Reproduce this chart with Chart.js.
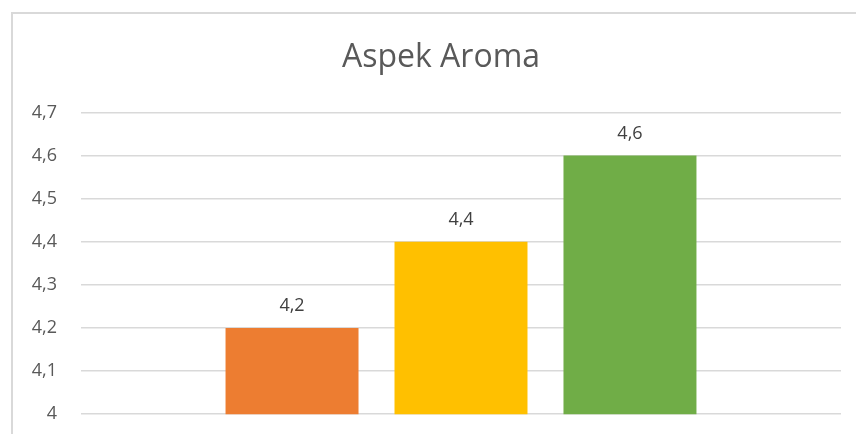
<!DOCTYPE html>
<html>
<head>
<meta charset="utf-8">
<script src="https://cdn.jsdelivr.net/npm/chart.js@4"></script>
<style>
  html, body { margin: 0; padding: 0; background: #fff; overflow: hidden; }
  body { width: 856px; height: 434px; position: relative; }
  #frame { position: absolute; left: 11px; top: 12px; width: 900px; height: 500px;
           border: 2px solid #d9d9d9; box-sizing: border-box; }
  #myChart { position: absolute; left: 13px; top: 14px; }
</style>
</head>
<body>
<div id="frame"></div>
<canvas id="myChart" width="856" height="435"></canvas>
<script>
// DATA
const categories = [""];
const seriesNames = ["Seri 1", "Seri 2", "Seri 3"];
const seriesValues = [[4.2], [4.4], [4.6]];
const seriesColors = ["#ED7D31", "#FFC000", "#70AD47"];
const yTicks = [4, 4.1, 4.2, 4.3, 4.4, 4.5, 4.6, 4.7];

const fmt = (v) => String(Math.round(v * 10) / 10).replace(".", ",");

// labels above the bars
const valueLabels = {
  id: "valueLabels",
  afterDatasetsDraw(chart) {
    const ctx = chart.ctx;
    ctx.save();
    ctx.font = "18px 'Open Sans'";
    ctx.fillStyle = "#404040";
    ctx.textAlign = "center";
    ctx.textBaseline = "middle";
    chart.data.datasets.forEach((ds, i) => {
      chart.getDatasetMeta(i).data.forEach((bar, j) => {
        ctx.fillText(fmt(ds.data[j]), bar.x, bar.y - 22);
      });
    });
    ctx.restore();
  },
};

const ctx = document.getElementById("myChart");

new Chart(ctx, {
  type: "bar",
  data: {
    labels: categories,
    datasets: seriesNames.map((name, i) => ({
      label: name,
      data: seriesValues[i],
      backgroundColor: seriesColors[i],
      categoryPercentage: 0.667,
      barPercentage: 0.787,
    })),
  },
  options: {
    responsive: false,
    animation: false,
    layout: { padding: { left: 0, right: 0, top: 0, bottom: 26 } },
    plugins: {
      legend: { display: false },
      tooltip: { enabled: false },
      title: {
        display: true,
        text: "Aspek Aroma",
        color: "#595959",
        font: { family: "Open Sans", size: 32, weight: "normal", lineHeight: 1.2 },
        padding: { top: 25, bottom: 35 },
      },
    },
    scales: {
      x: { display: false },
      y: {
        min: 4,
        max: 4.7,
        afterBuildTicks: (scale) => {
          scale.ticks = yTicks.map((v) => ({ value: v }));
        },
        afterFit: (scale) => {
          scale.width = 68;
        },
        border: { display: false },
        grid: { color: "#d9d9d9", lineWidth: 1.5, drawTicks: false },
        ticks: {
          padding: 24,
          color: "#595959",
          font: { family: "Open Sans", size: 18 },
          callback: (v) => fmt(v),
        },
      },
      // empty space on the right of the plot
      yRight: {
        position: "right",
        border: { display: false },
        grid: { display: false },
        ticks: { display: false },
        afterFit: (scale) => {
          scale.width = 28;
        },
      },
    },
  },
  plugins: [valueLabels],
});
</script>
</body>
</html>
